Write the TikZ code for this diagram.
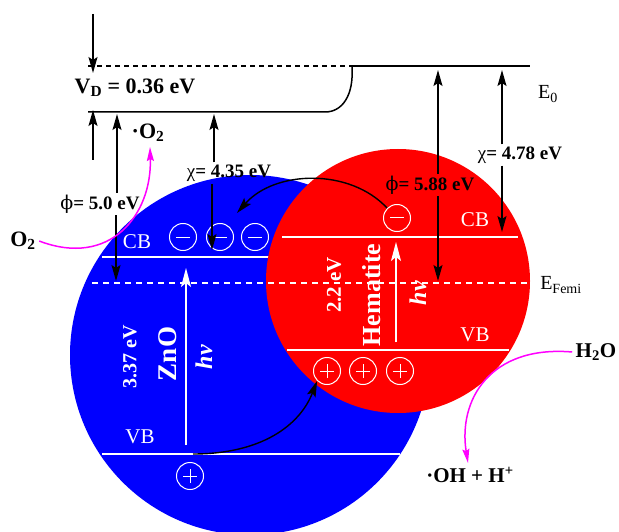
\documentclass[tikz,border=0pt]{standalone}
\usepackage{fontspec}
\setmainfont{Liberation Serif}
\newfontfamily\grk{DejaVu Serif}
\usetikzlibrary{arrows.meta}
\definecolor{mag}{RGB}{255,0,255}
\newcommand\fsz[1]{\fontsize{#1}{#1}\selectfont}

\begin{document}
\begin{tikzpicture}[x=1pt,y=-1pt,
  line/.style={line width=1.5pt},
  arr/.style={line width=1.5pt,-{Stealth[length=16pt,width=9pt,inset=3pt]}},
  warr/.style={white,line width=1.3pt,-{Stealth[length=19pt,width=10pt,inset=4pt]}},
  marr/.style={mag,line width=1.5pt,-{Stealth[length=14pt,width=7pt,inset=2pt]}},
  lbl/.style={font=\fsz{19}\bfseries,inner sep=2pt},
  band/.style={white,font=\fsz{21}},
  charge/.style={circle,draw=white,line width=1pt,minimum size=27pt,inner sep=0pt},
  elec/.style={charge,path picture={\draw[white,line width=1pt]
      ([xshift=-7pt]path picture bounding box.center) -- ([xshift=7pt]path picture bounding box.center);}},
  hole/.style={charge,path picture={\draw[white,line width=1pt]
      ([xshift=-7pt]path picture bounding box.center) -- ([xshift=7pt]path picture bounding box.center)
      ([yshift=-7pt]path picture bounding box.center) -- ([yshift=7pt]path picture bounding box.center);}}]
\useasboundingbox (0,0) rectangle (619,532);

%% ZnO particle
\fill[blue] (250,355) circle[radius=180];
\draw[white,line width=1.3pt] (102,257) -- (300,257);
\draw[white,line width=1.3pt] (102,454) -- (400,454);

%% hematite particle
\fill[red] (398,281) circle[radius=132];
\draw[white,line width=1.3pt] (282,237) -- (518,237);
\draw[white,line width=1.3pt] (287,350) -- (509,350);

%% Fermi level
\draw[white,line width=1.3pt,dash pattern=on 6pt off 5pt] (92,283) -- (528,283);

%% vacuum level and band bending
\coordinate (vacL) at (88,66);
\coordinate (vacM) at (352,66);
\coordinate (vacR) at (530,66);
\coordinate (bendB) at (325,112);
\coordinate (lowL) at (88,112);
\draw[line,dash pattern=on 5pt off 4pt] (vacL) -- (vacM);
\draw[line] (vacM) -- (vacR);
\draw[line] (vacM) .. controls (354,96) and (342,112) .. (bendB) -- (lowL);

%% labels
\node[font=\fsz{22}\bfseries] (vd) at (135,88) {V\textsubscript{D} = 0.36 eV};
\node[font=\fsz{20}] (e0) at (548,94) {E\textsubscript{0}};
\node[font=\fsz{20}] (ef) at (561,285) {E\textsubscript{Femi}};
\node[lbl] (phiZ) at (100,204) {{\grk\mdseries ϕ}= 5.0 eV};
\node[lbl] (chiZ) at (229,173) {{\mdseries χ}= 4.35 eV};
\node[lbl] (phiH) at (430,185) {{\grk\mdseries ϕ}= 5.88 eV};
\node[lbl] (chiH) at (520,155) {{\mdseries χ}= 4.78 eV};

\node[band] (cbZ) at (137,242) {CB};
\node[band] (vbZ) at (140,437) {VB};
\node[band] (cbH) at (475,220) {CB};
\node[band] (vbH) at (475,335) {VB};

\node[white,rotate=90,font=\fsz{27}\bfseries] (zno) at (168,354) {ZnO};
\node[white,rotate=90,font=\fsz{20}\bfseries] (gapZ) at (130,357) {3.37 eV};
\node[white,rotate=90,font=\fsz{24}\bfseries\itshape] (hvZ) at (204,357) {hν};
\node[white,rotate=90,font=\fsz{26}\bfseries] (hem) at (372,295) {Hematite};
\node[white,rotate=90,font=\fsz{21}\bfseries] (gapH) at (334,285) {2.2 eV};
\node[white,rotate=90,font=\fsz{24}\bfseries\itshape] (hvH) at (418,293) {hν};

\node[font=\fsz{22}\bfseries] (o2) at (23,241) {O\textsubscript{2}};
\node[font=\fsz{22}\bfseries] (rad) at (148,133) {·O\textsubscript{2}};
\node[font=\fsz{21}\bfseries] (h2o) at (596,352) {H\textsubscript{2}O};
\node[font=\fsz{21}\bfseries] (oh) at (470,475) {·OH + H\textsuperscript{+}};

%% charges
\foreach \i/\x in {1/183,2/220,3/255}
  \node[elec] (eZ\i) at (\x,237) {};
\node[elec] (eH) at (397,218) {};
\foreach \i/\x in {1/327,2/363,3/400}
  \node[hole] (hH\i) at (\x,371) {};
\node[hole] (hZ) at (190,476) {};

%% photo excitation
\coordinate (hvZa) at (186,445);
\coordinate (hvZb) at (186,268);
\coordinate (hvHa) at (396,342);
\coordinate (hvHb) at (396,242);
\draw[warr] (hvZa) -- (hvZb);
\draw[warr] (hvHa) -- (hvHb);

%% energy arrows
\coordinate (vdT) at (93,14);
\coordinate (vdB) at (93,160);
\coordinate (phiZup) at (117,114);
\coordinate (phiZdn) at (116,281);
\coordinate (chiZup) at (214,114);
\coordinate (chiZdn) at (212,250);
\coordinate (phiHup) at (438,70);
\coordinate (phiHdn) at (438,281);
\coordinate (chiHup) at (502,70);
\coordinate (chiHdn) at (502,232);
\draw[arr] (vdT) -- ([yshift=-7pt]vdT |- vacL);
\draw[arr] (vdB) -- ([yshift=2pt]vdB |- lowL);
\draw[arr] (phiZ.north -| phiZup) -- (phiZup);
\draw[arr] (phiZ.south -| phiZdn) -- (phiZdn);
\draw[arr] (chiZ.north -| chiZup) -- (chiZup);
\draw[arr] (chiZ.south -| chiZdn) -- (chiZdn);
\draw[arr] (phiH.north -| phiHup) -- (phiHup);
\draw[arr] (phiH.south -| phiHdn) -- (phiHdn);
\draw[arr] (chiH.north -| chiHup) -- (chiHup);
\draw[arr] (chiH.south -| chiHdn) -- (chiHdn);

%% charge transfer
\draw[arr,line width=1.4pt] (eH.north west) .. controls (350,168) and (275,170) .. (237,213);
\draw[arr,line width=1.4pt] (193,454) .. controls (262,454) and (300,425) .. (hH1.south west);

%% surface reactions
\draw[marr] (o2.east) .. controls (110,268) and (152,215) .. (150,147);
\draw[marr] (h2o.west) .. controls (490,345) and (458,400) .. (468,463);
\end{tikzpicture}
\end{document}
